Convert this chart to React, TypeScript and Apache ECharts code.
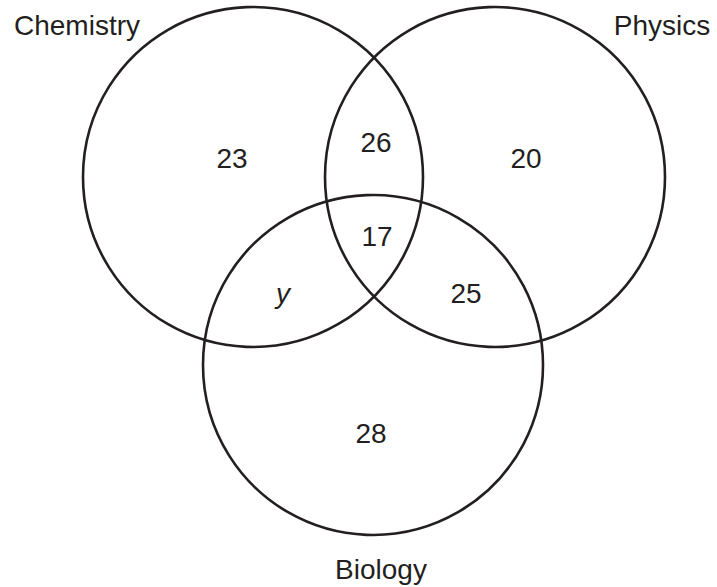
import React, { useEffect, useRef } from "react";
import * as echarts from "echarts";

// Sets (circles): centre and radius in chart units (1 unit = 1 px of the 717x587 canvas)
const setNames = ["Chemistry", "Physics", "Biology"];
const setCenterX = [253, 495, 373];
const setCenterY = [177, 177, 365];
const setRadius = [170, 170, 170];
const setLabelX = [77, 662, 381];
const setLabelY = [25, 25, 569];

// Region counts
const regionLabels = ["23", "26", "20", "17", "y", "25", "28"];
const regionX = [232, 376, 526, 377, 283, 466, 371];
const regionY = [158, 142, 158, 236, 293, 293, 433];

const W = 717;
const H = 587;
const INK = "#231f20";
const FONT = "'Liberation Sans', Arial, Helvetica, sans-serif";

export default function App() {
  const ref = useRef<HTMLDivElement>(null);
  useEffect(() => {
    document.body.style.margin = "0";
    if (!ref.current) return;
    const chart = echarts.init(ref.current, null, { renderer: "svg" });
    const circleData = setNames.map((n, i) => [setCenterX[i], setCenterY[i], setRadius[i]]);
    const setLabelData = setNames.map((n, i) => [setLabelX[i], setLabelY[i]]);
    const regionData = regionLabels.map((n, i) => [regionX[i], regionY[i]]);
    const makeText = (texts: string[]) => (params: any, api: any) => {
      const p = api.coord([api.value(0), api.value(1)]);
      const t = texts[params.dataIndex];
      return {
        type: "text",
        x: p[0],
        y: p[1],
        style: {
          text: t,
          fontSize: 28,
          fontFamily: FONT,
          fontStyle: t === "y" ? "italic" : "normal",
          fill: INK,
          align: "center",
          verticalAlign: "middle",
        },
      };
    };
    chart.setOption({
      animation: false,
      backgroundColor: "#ffffff",
      grid: { left: 0, right: 0, top: 0, bottom: 0 },
      xAxis: { type: "value", min: 0, max: W, show: false },
      yAxis: { type: "value", min: 0, max: H, inverse: true, show: false },
      series: [
        {
          type: "custom",
          data: circleData,
          renderItem: (params: any, api: any) => {
            const c = api.coord([api.value(0), api.value(1)]);
            const r = api.size([api.value(2), 0])[0];
            return {
              type: "circle",
              shape: { cx: c[0], cy: c[1], r },
              style: { fill: "none", stroke: INK, lineWidth: 2.6 },
            };
          },
        },
        { type: "custom", data: setLabelData, renderItem: makeText(setNames) },
        { type: "custom", data: regionData, renderItem: makeText(regionLabels) },
      ],
    });
    return () => chart.dispose();
  }, []);
  return <div ref={ref} style={{ width: W, height: H }} />;
}
